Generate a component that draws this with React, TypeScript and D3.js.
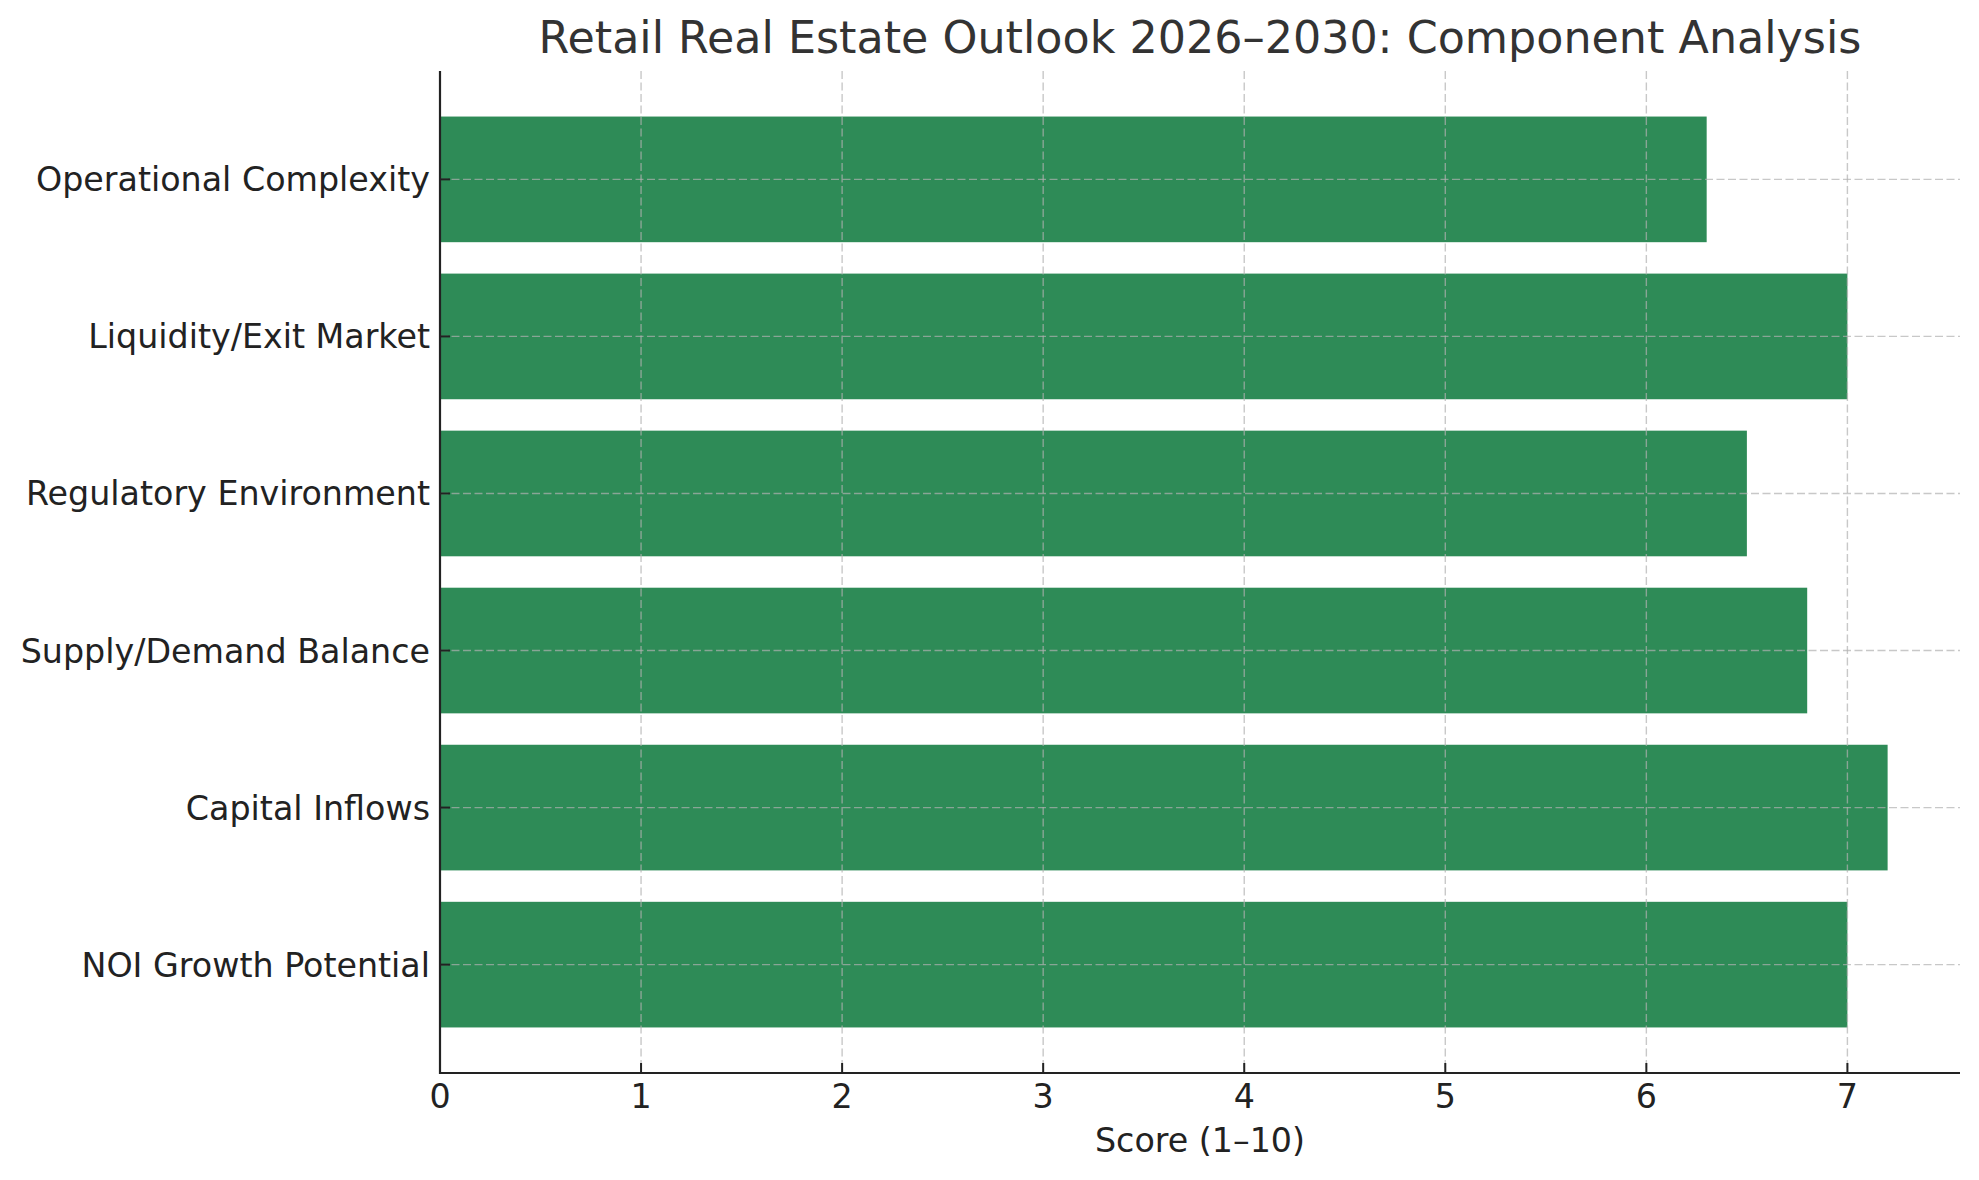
import React from "react";
import * as d3 from "d3";

const categories = [
  "NOI Growth Potential",
  "Capital Inflows",
  "Supply/Demand Balance",
  "Regulatory Environment",
  "Liquidity/Exit Market",
  "Operational Complexity",
];
const scores = [7.0, 7.2, 6.8, 6.5, 7.0, 6.3];
const xTicks = [0, 1, 2, 3, 4, 5, 6, 7];
const title = "Retail Real Estate Outlook 2026–2030: Component Analysis";
const xLabel = "Score (1–10)";

const W = 1979;
const H = 1180;
const left = 440;
const right = 1960;
const top = 71;
const bottom = 1073;
const FONT = "'DejaVu Sans', sans-serif";

export default function App() {
  const maxV = d3.max(scores) as number;
  const x = d3.scaleLinear().domain([0, maxV * 1.05]).range([left, right]);
  const n = categories.length;
  const pad = (n - 0.2) * 0.05;
  const y = d3
    .scaleLinear()
    .domain([-0.4 - pad, n - 1 + 0.4 + pad])
    .range([bottom, top]);
  const barH = Math.abs(y(0.4) - y(-0.4));
  const tickLen = 10;
  const gridColor = "#b0b0b0";

  return (
    <svg
      width={W}
      height={H}
      style={{ position: "absolute", left: 0, top: 0, background: "#fff" }}
      fontFamily={FONT}
    >
      <rect x={0} y={0} width={W} height={H} fill="#fff" />
      {categories.map((c, i) => (
        <rect
          key={c}
          x={x(0)}
          y={y(i + 0.4)}
          width={x(scores[i]) - x(0)}
          height={barH}
          fill="#2E8B57"
        />
      ))}
      {/* grid */}
      {xTicks.map((t) => (
        <line
          key={"gx" + t}
          x1={x(t)}
          x2={x(t)}
          y1={top}
          y2={bottom}
          stroke={gridColor}
          strokeOpacity={0.7}
          strokeWidth={1.4}
          strokeDasharray="8,3.5"
        />
      ))}
      {categories.map((c, i) => (
        <line
          key={"gy" + c}
          x1={left}
          x2={right}
          y1={y(i)}
          y2={y(i)}
          stroke={gridColor}
          strokeOpacity={0.7}
          strokeWidth={1.4}
          strokeDasharray="8,3.5"
        />
      ))}
      {/* ticks */}
      {xTicks.map((t) => (
        <g key={"tx" + t}>
          <line x1={x(t)} x2={x(t)} y1={bottom} y2={bottom - tickLen} stroke="#222" strokeWidth={2} />
          <text x={x(t)} y={1108} textAnchor="middle" fontSize={33.3} fill="#222">
            {t}
          </text>
        </g>
      ))}
      {categories.map((c, i) => (
        <g key={"ty" + c}>
          <line x1={left} x2={left + tickLen} y1={y(i)} y2={y(i)} stroke="#222" strokeWidth={2} />
          <text x={430} y={y(i)} dy="0.36em" textAnchor="end" fontSize={33.3} fill="#222">
            {c}
          </text>
        </g>
      ))}
      {/* spines */}
      <line x1={left} x2={left} y1={top} y2={bottom + 1} stroke="#222" strokeWidth={2.2} />
      <line x1={left - 1} x2={right} y1={bottom} y2={bottom} stroke="#222" strokeWidth={2.2} />
      <text x={(left + right) / 2} y={1152} textAnchor="middle" fontSize={33.3} fill="#222">
        {xLabel}
      </text>
      <text x={(left + right) / 2} y={53} textAnchor="middle" fontSize={44.4} fill="#333">
        {title}
      </text>
    </svg>
  );
}
